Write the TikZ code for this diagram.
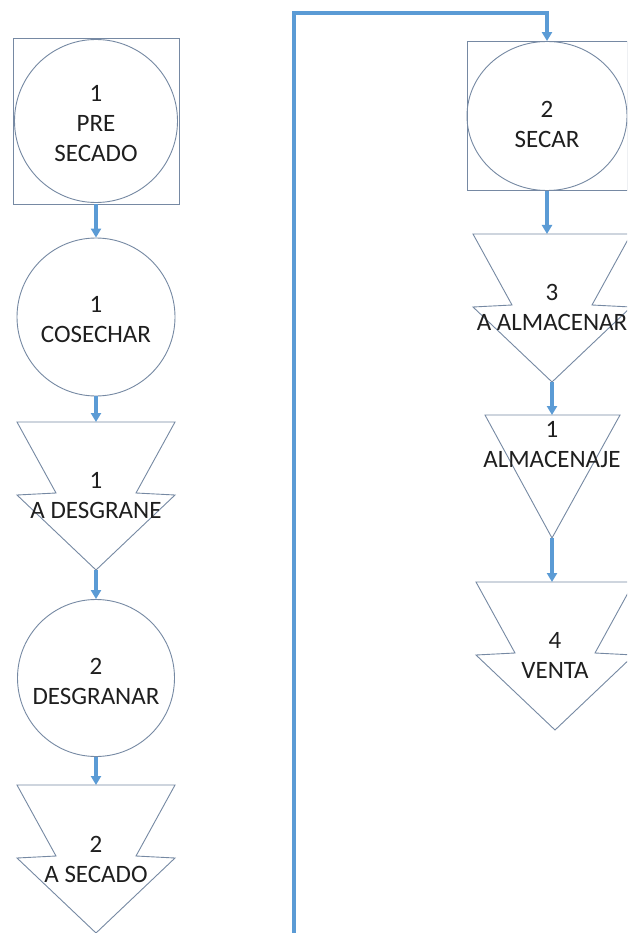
\documentclass[tikz,border=0pt]{standalone}
\usepackage{fontspec}
\setmainfont{Carlito}
\usepackage{xcolor}
\usetikzlibrary{arrows.meta,shapes.geometric}
\definecolor{borde}{HTML}{7689A3}
\definecolor{flujoazul}{HTML}{5B9BD5}
\definecolor{texto}{HTML}{1F1F1F}
\tikzset{
  forma/.style={draw=borde, line width=0.9pt},
  flujo/.style={draw=flujoazul, line width=3.2pt, -{Triangle[width=10pt,length=9pt]}},
  etiqueta/.style={align=center, text=texto, font=\fontsize{25}{30}\selectfont, inner sep=0pt},
  operacion/.style={forma, circle, minimum size=160pt, inner sep=0pt, etiqueta},
  flecha/.pic={
    \draw[forma] (-79,0) -- (79,0) -- (40,71) -- (79,73) -- (0,148) -- (-79,73) -- (-40,71) -- cycle;
    \coordinate (-top) at (0,0);
    \coordinate (-tip) at (0,148);
  },
  triangulo/.pic={
    \draw[forma] (-67,0) -- (68,0) -- (0,123) -- cycle;
    \coordinate (-top) at (0,0);
    \coordinate (-tip) at (0,123);
  }
}
\begin{document}
\begin{tikzpicture}[x=1pt,y=-1pt]
				\clip (0,0) rectangle (627,933);
				\fill [white] (0,0) rectangle (627,933);
				\node [forma, minimum size=166pt, inner sep=0pt] (presecadobox) at (96,121) {};
				\node [operacion, minimum size=163pt] (presecado) at (96,121) {};
				\node [etiqueta] at (96,124) {1\\PRE\\SECADO};
				\node [operacion, minimum size=158pt] (cosechar) at (96,317) {};
				\node [etiqueta] at (96,320) {1\\COSECHAR};
				\pic (desgrane) at (96,422) {flecha};
				\node [etiqueta] at (96,496) {1\\A DESGRANE};
				\node [operacion, minimum size=157pt] (desgranar) at (96,678) {};
				\node [etiqueta] at (96,681) {2\\DESGRANAR};
				\pic (asecado) at (96,785) {flecha};
				\node [etiqueta] at (96,859) {2\\A SECADO};
				\node [forma, minimum width=160pt, minimum height=149pt, inner sep=0pt] (secarbox) at (547,116) {};
				\node [forma, ellipse, minimum width=160pt, minimum height=149pt, inner sep=0pt] (secar) at (547,116) {};
				\node [etiqueta] at (547,124) {2\\SECAR};
				\pic (almacenar) at (552,234) {flecha};
				\node [etiqueta] at (552,307) {3\\A ALMACENAR};
				\pic (almacenaje) at (552,415) {triangulo};
				\node [etiqueta] at (552,445) {1\\ALMACENAJE};
				\pic (venta) at (555,582) {flecha};
				\node [etiqueta] at (555,655) {4\\VENTA};
				\coordinate (retorno) at (294,933);
				\coordinate (esquina) at (547,13);
				\draw [flujo] (presecadobox.south) -- (cosechar.north);
				\draw [flujo] (cosechar.south) -- (desgrane-top);
				\draw [flujo] (desgrane-tip) -- (desgranar.north);
				\draw [flujo] (desgranar.south) -- (asecado-top);
				\draw [flujo] (retorno) |- (esquina) -- (secarbox.north);
				\draw [flujo] (secarbox.south) -- (secarbox.south |- almacenar-top);
				\draw [flujo] (almacenar-tip) -- (almacenaje-top);
				\draw [flujo] (almacenaje-tip) -- (almacenaje-tip |- venta-top);
			\end{tikzpicture}
\end{document}
